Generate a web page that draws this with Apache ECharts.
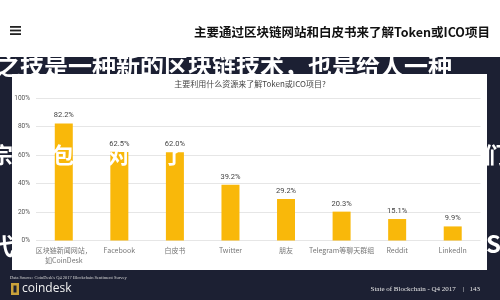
<!DOCTYPE html>
<html>
<head>
<meta charset="utf-8">
<script src="https://cdn.jsdelivr.net/npm/echarts@6/dist/echarts.min.js"></script>
<style>html,body{margin:0;padding:0;background:#fff}#c{width:500px;height:300px}</style>
</head>
<body>
<div id="c"></div>
<script>
var categories = ['区块链新闻网站，\n如CoinDesk', 'Facebook', '白皮书', 'Twitter', '朋友', 'Telegram等聊天群组', 'Reddit', 'LinkedIn'];
var values = [82.2, 62.5, 62.0, 39.2, 29.2, 20.3, 15.1, 9.9];
var yTicks = [0, 20, 40, 60, 80, 100];
var pageTitle = '主要通过区块链网站和白皮书来了解Token或ICO项目';
var chartTitle = '主要利用什么资源来了解Token或ICO项目?';
var overlayTop = '之技是一种新的区块链技术，也是给人一种';
var overlayMid = ['宗', '包', '对', '了', '们'];
var overlayLow = ['代', 'S'];

var CJK = '"Noto Sans CJK SC", "Noto Sans", sans-serif';
var chart = echarts.init(document.getElementById('c'));
var midX = [-9, 52, 108, 163, 484];
var g = [
  { type: 'rect', z: -10, shape: { x: 0, y: 57, width: 500, height: 243 }, style: { fill: '#1c2033' } },
  { type: 'rect', z: -9, shape: { x: 12, y: 74, width: 475, height: 196 }, style: { fill: '#ffffff' } },
  { type: 'rect', z: 5, shape: { x: 10, y: 26, width: 11, height: 1.8 }, style: { fill: '#222' } },
  { type: 'rect', z: 5, shape: { x: 10, y: 29.6, width: 11, height: 1.8 }, style: { fill: '#222' } },
  { type: 'rect', z: 5, shape: { x: 10, y: 33.2, width: 11, height: 1.8 }, style: { fill: '#222' } },
  { type: 'text', z: 5, style: { text: pageTitle, x: 490, y: 32, align: 'right', verticalAlign: 'middle', font: 'bold 12.5px ' + CJK, fill: '#111' } },
  { type: 'text', z: 5, style: { text: chartTitle, x: 250, y: 83.5, align: 'center', verticalAlign: 'middle', font: '8px ' + CJK, fill: '#444' } },
  { type: 'text', z: 5, style: { text: "Data Source: CoinDesk's Q4 2017 Blockchain Sentiment Survey", x: 10, y: 278, verticalAlign: 'middle', font: '4.5px "Liberation Serif", serif', fill: '#d8d8d8' } },
  { type: 'rect', z: 5, shape: { x: 11, y: 283, width: 8, height: 12 }, style: { fill: '#c9a13a' } },
  { type: 'rect', z: 6, shape: { x: 13.5, y: 285.5, width: 3, height: 7 }, style: { fill: '#1c2033' } },
  { type: 'text', z: 5, style: { text: 'coindesk', x: 22, y: 289, verticalAlign: 'middle', font: '12px "Open Sans", sans-serif', fill: '#f2f2f2' } },
  { type: 'text', z: 5, style: { text: 'State of Blockchain - Q4 2017    |   143', x: 480, y: 289, align: 'right', verticalAlign: 'middle', font: '7px "Liberation Serif", serif', fill: '#e8e8e8' } },
  { type: 'text', z: 100, style: { text: overlayTop, x: -4, y: 66, verticalAlign: 'middle', font: 'bold 24px ' + CJK, fill: '#ffffff' } },
  { type: 'text', z: 100, style: { text: overlayLow[0], x: -10, y: 246, verticalAlign: 'middle', font: 'bold 24px ' + CJK, fill: '#ffffff' } },
  { type: 'text', z: 100, style: { text: overlayLow[1], x: 486, y: 244, verticalAlign: 'middle', font: 'bold 24px ' + CJK, fill: '#ffffff' } }
];
overlayMid.forEach(function (ch, i) {
  g.push({ type: 'text', z: 100, style: { text: ch, x: midX[i], y: 155, verticalAlign: 'middle', font: 'bold 22px ' + CJK, fill: '#ffffff' } });
});
chart.setOption({
  backgroundColor: '#ffffff',
  animation: false,
  grid: { left: 36, right: 19.5, top: 98.3, bottom: 59.5 },
  xAxis: {
    type: 'category',
    data: categories,
    axisLine: { show: false },
    axisTick: { show: false },
    axisLabel: { color: '#777', fontSize: 7, fontFamily: CJK, margin: 5, lineHeight: 10, interval: 0 }
  },
  yAxis: {
    type: 'value', min: yTicks[0], max: yTicks[yTicks.length - 1], interval: 20,
    axisLine: { show: false }, axisTick: { show: false },
    axisLabel: { formatter: '{value}%', color: '#555', fontSize: 6.5, fontFamily: 'Roboto, sans-serif', margin: 6 },
    splitLine: { lineStyle: { color: '#e6e6e6', width: 1 } }
  },
  series: [{
    type: 'bar',
    data: values,
    barWidth: 18,
    itemStyle: { color: '#F9B80A' },
    label: { show: true, position: 'top', distance: 4, formatter: function (p) { return p.value.toFixed(1) + '%'; }, color: '#444', fontSize: 7.5, fontFamily: 'Roboto, sans-serif' },
    z: 2
  }],
  graphic: g
});
</script>
</body>
</html>
